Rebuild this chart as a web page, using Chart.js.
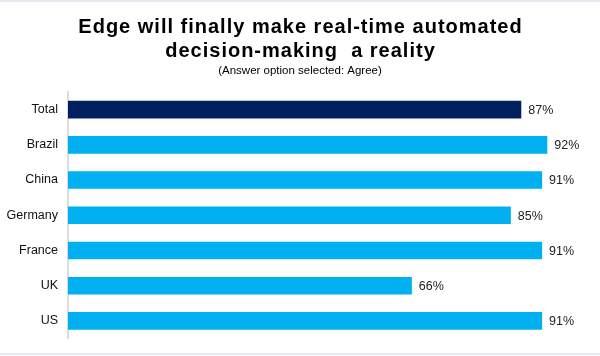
<!DOCTYPE html>
<html>
<head>
<meta charset="utf-8">
<script src="https://cdn.jsdelivr.net/npm/chart.js@4/dist/chart.umd.min.js"></script>
<style>
  html, body { margin: 0; padding: 0; background: #fff; }
  #wrap { position: relative; width: 600px; height: 356px; overflow: hidden; }
  canvas { display: block; }
  .rule { position: absolute; left: 0; width: 600px; height: 2px; background: #E6EAF2; }
</style>
</head>
<body>
<div id="wrap">
  <canvas id="c" width="600" height="356"></canvas>
  <div class="rule" style="top:0"></div>
  <div class="rule" style="top:353px"></div>
</div>
<script>
const categories = ["Total", "Brazil", "China", "Germany", "France", "UK", "US"];
const agreeValues = [87, 92, 91, 85, 91, 66, 91];
const barColors = ["#002060", "#00B0F0", "#00B0F0", "#00B0F0", "#00B0F0", "#00B0F0", "#00B0F0"];
const titleLines = ["Edge will finally make real-time automated", "decision-making  a reality"];
const subtitleText = "(Answer option selected: Agree)";

const FONT = "'Liberation Sans', Arial, sans-serif";

const titleBlock = {
  id: 'titleBlock',
  afterDraw(chart) {
    const ctx = chart.ctx;
    ctx.save();
    ctx.fillStyle = "#000";
    ctx.textAlign = "center";
    ctx.textBaseline = "alphabetic";
    ctx.font = "bold 20px " + FONT;
    if ('letterSpacing' in ctx) ctx.letterSpacing = "1px";
    ctx.fillText(titleLines[0], 300.5, 32.5);
    ctx.fillText(titleLines[1], 300.5, 57);
    if ('letterSpacing' in ctx) ctx.letterSpacing = "0px";
    ctx.font = "11.5px " + FONT;
    ctx.fillText(subtitleText, 300, 74);
    ctx.restore();
  }
};

const valueLabels = {
  id: 'valueLabels',
  afterDatasetsDraw(chart) {
    const ctx = chart.ctx;
    const meta = chart.getDatasetMeta(0);
    ctx.save();
    ctx.font = "12.5px " + FONT;
    ctx.fillStyle = "#222";
    ctx.textAlign = "left";
    ctx.textBaseline = "middle";
    meta.data.forEach((bar, i) => {
      ctx.fillText(agreeValues[i] + "%", bar.x + 7, bar.y + 1);
    });
    ctx.restore();
  }
};

new Chart(document.getElementById('c'), {
  type: 'bar',
  data: {
    labels: categories,
    datasets: [{
      data: agreeValues,
      backgroundColor: barColors,
      borderWidth: 0,
      barPercentage: 0.5,
      categoryPercentage: 1.0
    }]
  },
  options: {
    indexAxis: 'y',
    responsive: false,
    animation: false,
    layout: { padding: { left: 0, right: 11, top: 92, bottom: 16.7 } },
    plugins: {
      legend: { display: false },
      tooltip: { enabled: false },
      title: { display: false },
      subtitle: { display: false }
    },
    scales: {
      x: {
        min: 0,
        max: 100,
        display: false,
        grid: { display: false }
      },
      y: {
        offset: true,
        grid: { display: false, drawTicks: false },
        border: { display: true, color: "#D9DCE3", width: 2 },
        ticks: {
          color: "#111",
          font: { family: FONT, size: 12.5 },
          padding: 10
        },
        afterFit(scale) { scale.width = 68; }
      }
    }
  },
  plugins: [valueLabels, titleBlock]
});
</script>
</body>
</html>
